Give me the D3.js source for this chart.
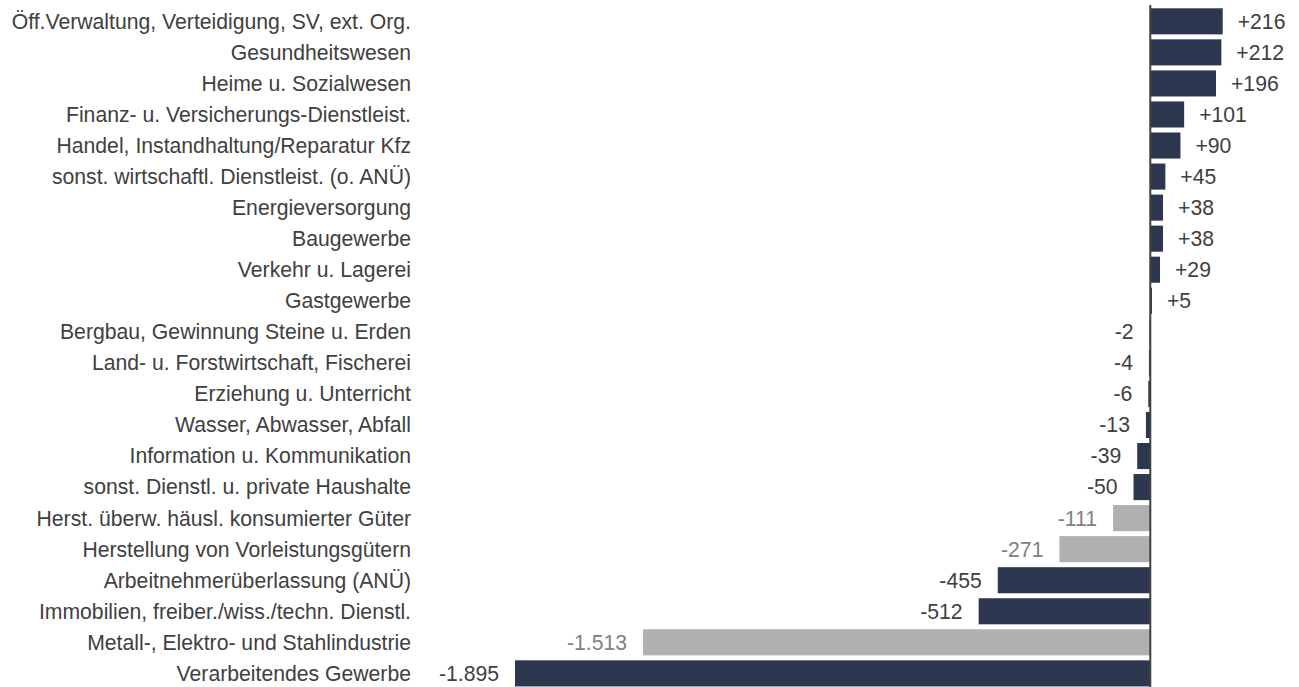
<!DOCTYPE html>
<html lang="de">
<head>
<meta charset="utf-8">
<script src="https://cdn.jsdelivr.net/npm/d3@7"></script>
<style>
  html, body { margin: 0; padding: 0; background: #fff; }
  svg { display: block; font-family: "Liberation Sans", Arial, sans-serif; }
</style>
</head>
<body>
<svg id="chart" width="1299" height="687"></svg>
<script>
// Veränderung der Beschäftigung nach Wirtschaftszweigen
const categories = [
  "Öff.Verwaltung, Verteidigung, SV, ext. Org.",
  "Gesundheitswesen",
  "Heime u. Sozialwesen",
  "Finanz- u. Versicherungs-Dienstleist.",
  "Handel, Instandhaltung/Reparatur Kfz",
  "sonst. wirtschaftl. Dienstleist. (o. ANÜ)",
  "Energieversorgung",
  "Baugewerbe",
  "Verkehr u. Lagerei",
  "Gastgewerbe",
  "Bergbau, Gewinnung Steine u. Erden",
  "Land- u. Forstwirtschaft, Fischerei",
  "Erziehung u. Unterricht",
  "Wasser, Abwasser, Abfall",
  "Information u. Kommunikation",
  "sonst. Dienstl. u. private Haushalte",
  "Herst. überw. häusl. konsumierter Güter",
  "Herstellung von Vorleistungsgütern",
  "Arbeitnehmerüberlassung (ANÜ)",
  "Immobilien, freiber./wiss./techn. Dienstl.",
  "Metall-, Elektro- und Stahlindustrie",
  "Verarbeitendes Gewerbe"
];
const values = [216, 212, 196, 101, 90, 45, 38, 38, 29, 5, -2, -4, -6, -13, -39, -50, -111, -271, -455, -512, -1513, -1895];
// Teilbereiche des Verarbeitenden Gewerbes (grau hervorgehoben)
const subSectors = [
  "Herst. überw. häusl. konsumierter Güter",
  "Herstellung von Vorleistungsgütern",
  "Metall-, Elektro- und Stahlindustrie"
];

const data = categories.map((c, i) => ({ name: c, value: values[i], sub: subSectors.includes(c) }));

const navy = "#2e3750";
const grey = "#b0b0b0";
const textDark = "#404040";
const textGrey = "#808080";
const fontSize = 21.2;

const svg = d3.select("#chart");

const x = d3.scaleLinear()
  .domain([d3.min(values), d3.max(values)])
  .range([515, 1222.7]);

const y = d3.scaleBand()
  .domain(categories)
  .range([5.8, 688.9])
  .paddingInner(0.16)
  .paddingOuter(0.08);

const fmt = v => {
  const s = d3.format(",")(Math.abs(v)).replace(/,/g, ".");
  return (v > 0 ? "+" : "-") + s;
};

// Balken
svg.append("g")
  .selectAll("rect")
  .data(data)
  .join("rect")
  .attr("x", d => x(Math.min(0, d.value)))
  .attr("y", d => y(d.name))
  .attr("width", d => Math.abs(x(d.value) - x(0)))
  .attr("height", y.bandwidth())
  .attr("fill", d => d.sub ? grey : navy);

// Nulllinie
svg.append("line")
  .attr("x1", x(0)).attr("x2", x(0))
  .attr("y1", 5).attr("y2", 687)
  .attr("stroke", "#404040")
  .attr("stroke-width", 2);

// Kategorienbeschriftung
svg.append("g")
  .selectAll("text")
  .data(data)
  .join("text")
  .attr("x", 411)
  .attr("y", d => y(d.name) + y.bandwidth() / 2)
  .attr("dy", "0.35em")
  .attr("text-anchor", "end")
  .attr("font-size", fontSize)
  .attr("fill", textDark)
  .text(d => d.name);

// Wertbeschriftung
svg.append("g")
  .selectAll("text")
  .data(data)
  .join("text")
  .attr("x", d => d.value >= 0 ? x(d.value) + 15 : x(d.value) - 16)
  .attr("y", d => y(d.name) + y.bandwidth() / 2)
  .attr("dy", "0.35em")
  .attr("text-anchor", d => d.value >= 0 ? "start" : "end")
  .attr("font-size", fontSize)
  .attr("fill", d => d.sub ? textGrey : textDark)
  .text(d => fmt(d.value));
</script>
</body>
</html>
